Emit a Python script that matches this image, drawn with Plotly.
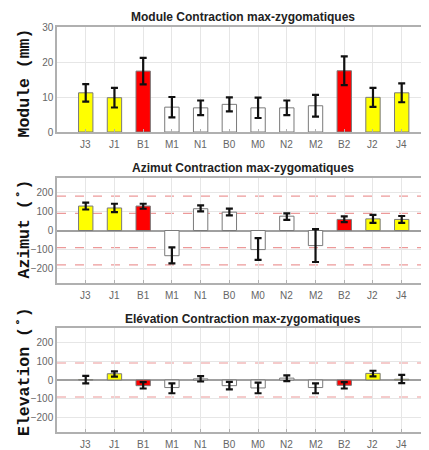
import plotly.graph_objects as go
from plotly.subplots import make_subplots

categories = ["J3", "J1", "B1", "M1", "N1", "B0", "M0", "N2", "M2", "B2", "J2", "J4"]
bar_colors = ["#ffff00", "#ffff00", "#ff0000", "#ffffff", "#ffffff", "#ffffff",
              "#ffffff", "#ffffff", "#ffffff", "#ff0000", "#ffff00", "#ffff00"]

module_vals = [11.2, 9.8, 17.4, 7.1, 6.9, 7.9, 6.9, 6.9, 7.5, 17.5, 9.9, 11.2]
module_err = [2.5, 2.8, 3.8, 2.9, 2.1, 2.0, 2.9, 2.1, 3.1, 4.1, 2.7, 2.7]

azimut_vals = [128, 118, 128, -132, 114, 96, -100, 75, -79, 58, 61, 58]
azimut_centers = [128, 118, 127, -130, 116, 97, -97, 73, -79, 59, 61, 58]
azimut_err = [18, 22, 13, 42, 16, 18, 57, 17, 86, 15, 21, 18]

elev_vals = [2, 33, -30, -40, 6, -30, -42, 10, -40, -28, 35, 4]
elev_centers = [2, 32, -28, -44, 6, -30, -42, 9, -44, -28, 34, 5]
elev_err = [20, 14, 17, 26, 14, 20, 28, 15, 26, 17, 15, 22]

azimut_refs = [180, 90, -90, -180]
elev_refs = [90, -90]

titles = ["Module Contraction max-zygomatiques",
          "Azimut Contraction max-zygomatiques",
          "Elévation Contraction max-zygomatiques"]
ytitles = ["Module (mm)", "Azimut (˚)", "Elevation (˚)"]

# the page body has an 8px margin, so the figure is offset by 8px
OFF = 8
FW, FH = 429 - OFF, 450 - OFF
L = 57 - OFF
W = FW - L
fig = make_subplots(rows=3, cols=1, vertical_spacing=0.05)

panels = [
    (module_vals, module_vals, module_err, [0, 30], [0, 10, 20, 30], []),
    (azimut_vals, azimut_centers, azimut_err, [-275, 275], [-200, -100, 0, 100, 200], azimut_refs),
    (elev_vals, elev_centers, elev_err, [-275, 275], [-200, -100, 0, 100, 200], elev_refs),
]
# plot areas in page pixels (top, bottom)
pix = [(27, 132), (178, 283), (328, 432)]
ytitle_centers = [83.5, 229.5, 372]
title_centers = [17, 168, 319]

def py(y):
    return 1 - (y - OFF) / FH

for i, (vals, centers, errs, yr, ytv, refs) in enumerate(panels):
    r = i + 1
    sfx = "" if r == 1 else str(r)
    fig.add_trace(go.Bar(
        x=categories, y=vals, width=0.5,
        marker=dict(color=bar_colors, line=dict(color="#7a7a7a", width=1)),
        showlegend=False,
    ), row=r, col=1)
    fig.add_trace(go.Scatter(
        x=categories, y=centers, mode="markers",
        marker=dict(size=1, color="rgba(0,0,0,0)"),
        error_y=dict(type="data", array=errs, color="#111111", thickness=2.2, width=3.5),
        showlegend=False,
    ), row=r, col=1)
    for v in refs:
        fig.add_shape(type="line", xref=f"x{sfx} domain", yref=f"y{sfx}",
                      x0=0, x1=1, y0=v, y1=v, layer="below",
                      line=dict(color="rgba(228,110,110,0.7)", width=1.2, dash="dash"))
    top, bot = pix[i]
    dom = [py(bot), py(top)]
    fig.update_yaxes(row=r, col=1, range=yr, tickvals=ytv, domain=dom,
                     showgrid=True, gridcolor="#e6e6e6", gridwidth=1,
                     zeroline=(i > 0), zerolinecolor="#a0a0a0", zerolinewidth=2,
                     showline=True, linecolor="#b0b0b0", linewidth=1.5, mirror=True,
                     ticks="", ticklen=0, tickfont=dict(family="Arial", size=10, color="#666666"),
                     automargin=False)
    fig.update_xaxes(row=r, col=1, range=[-1, 11.95], type="category",
                     showgrid=True, gridcolor="#e6e6e6", gridwidth=1,
                     showline=True, linecolor="#b0b0b0", linewidth=1.5, mirror=True,
                     ticks="inside", ticklen=3, tickcolor="#b0b0b0",
                     showticklabels=False, automargin=False)
    for c in categories:
        fig.add_annotation(text=c, xref=f"x{sfx}", yref="paper", x=c,
                           y=py(bot + 12), showarrow=False,
                           font=dict(family="Arial", size=10, color="#666666"),
                           xanchor="center", yanchor="middle")
    fig.add_annotation(text=f"<b>{titles[i]}</b>", xref="paper", yref="paper",
                       x=(243 - 57) / W, y=py(title_centers[i]), showarrow=False,
                       font=dict(family="Arial", size=12, color="#222222"),
                       xanchor="center", yanchor="middle")
    fig.add_annotation(text=f"<b>{ytitles[i]}</b>", xref="paper", yref="paper",
                       x=(24 - 57) / W, y=py(ytitle_centers[i]),
                       showarrow=False, textangle=-90,
                       font=dict(family="Liberation Mono", size=16.5, color="#111111"),
                       xanchor="center", yanchor="middle")

fig.update_layout(
    width=FW, height=FH,
    margin=dict(l=L, r=0, t=0, b=0),
    paper_bgcolor="white", plot_bgcolor="white",
    bargap=0.5,
)
fig.write_html("out.html")
